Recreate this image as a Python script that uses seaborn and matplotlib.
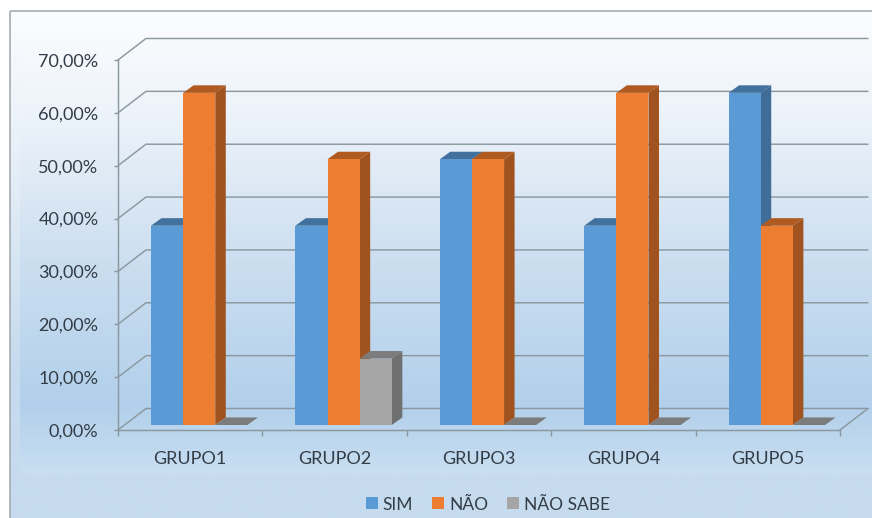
import matplotlib
matplotlib.use("Agg")
import matplotlib.pyplot as plt
import numpy as np
import pandas as pd
import seaborn as sns
from matplotlib.colors import LinearSegmentedColormap
from matplotlib.patches import Polygon, Rectangle

# Survey results per group, in percent
grupos = ["GRUPO1", "GRUPO2", "GRUPO3", "GRUPO4", "GRUPO5"]
sim = [37.5, 37.5, 50.0, 37.5, 62.5]
nao = [62.5, 50.0, 50.0, 62.5, 37.5]
nao_sabe = [0.0, 12.5, 0.0, 0.0, 0.0]
respostas = ["SIM", "NÃO", "NÃO SABE"]
y_ticks = [0, 10, 20, 30, 40, 50, 60, 70]
y_labels = ["0,00%", "10,00%", "20,00%", "30,00%", "40,00%", "50,00%", "60,00%", "70,00%"]

front_colors = ["#5b9bd5", "#ed7d31", "#a5a5a5"]
side_colors = ["#3f6d98", "#a0531e", "#707070"]
top_colors = ["#41719c", "#ae5a21", "#7c7c7c"]
grid_color = "#8b989f"
text_color = "#333d47"

W, H = 872, 518
sns.set_theme(style="white")
plt.rcParams["font.family"] = ["Lato", "DejaVu Sans"]

fig = plt.figure(figsize=(W / 100, H / 100), dpi=100, facecolor="white")


def px_axes(left, top, right, bottom, **kw):
    """Axes placed by pixel edges, measured from the top-left corner."""
    return fig.add_axes([left / W, 1 - bottom / H, (right - left) / W, (bottom - top) / H], **kw)


# Chart area: an outer gradient with a second panel on top that ends above the legend
bg = px_axes(0, 0, W, H, zorder=0)
bg.axis("off")
outer = LinearSegmentedColormap.from_list(
    "outer", [(0.0, "#fbfcfe"), (0.3, "#e6eff8"), (0.7, "#c6dbee"), (1.0, "#c6dbef")]
)
inner = LinearSegmentedColormap.from_list(
    "inner", [(0.0, "#fcfdfe"), (0.22, "#edf3fa"), (0.55, "#cbdef0"), (0.85, "#b2d0eb"), (1.0, "#c9def1")]
)
ramp = np.linspace(0, 1, 256)[:, None]
bg.imshow(ramp, cmap=outer, aspect="auto", extent=(10, W, H, 11), zorder=0)
bg.imshow(ramp, cmap=inner, aspect="auto", extent=(20, W, 475, 11), zorder=1)
bg.set_xlim(0, W)
bg.set_ylim(H, 0)
bg.add_patch(Rectangle((10, 11), W + 5, H, fill=False, ec="#a6acb0", lw=1.2, zorder=2))

# Front plane: holds the value axis, category ticks and the floor edge
ax = px_axes(118, 60, 840, 430, zorder=1)
ax.patch.set_alpha(0)
ax.set_xlim(-0.5, 4.5)
ax.set_ylim(0, 70)
for side in ["top", "right"]:
    ax.spines[side].set_visible(False)
for side in ["left", "bottom"]:
    ax.spines[side].set_color(grid_color)
    ax.spines[side].set_linewidth(1.05)
ax.set_yticks(y_ticks, y_labels)
ax.set_xticks(np.arange(len(grupos)), grupos)
ax.set_xticks(np.arange(len(grupos) + 1) - 0.5, minor=True)
ax.tick_params(axis="x", which="major", length=0, pad=15, labelsize=13, labelcolor=text_color)
ax.tick_params(axis="x", which="minor", length=4, width=1, color=grid_color, bottom=True)
ax.tick_params(axis="y", length=3, width=1, color=grid_color, left=True, pad=11,
               labelsize=13, labelcolor=text_color)

# Back wall gridlines and the receding lines joining them to the value axis
px_x = 5 / 722
px_y = 70 / 370
wall_dx, wall_dy = 28 * px_x, 21.5 * px_y
for v in y_ticks:
    ax.plot([-0.5, -0.5 + wall_dx, 4.5 + wall_dx], [v, v + wall_dy, v + wall_dy],
            color=grid_color, lw=1.05, clip_on=False, solid_joinstyle="miter")
ax.plot([4.5, 4.5 + wall_dx], [0, wall_dy], color=grid_color, lw=1.05, clip_on=False)

# Bars sit a little behind the front plane, on an overlaid transparent axes
bar_ax = px_axes(127, 53, 849, 425, zorder=2)
bar_ax.patch.set_alpha(0)
df = pd.DataFrame({"grupo": grupos, "SIM": sim, "NÃO": nao, "NÃO SABE": nao_sabe}).melt(
    id_vars="grupo", value_vars=respostas, var_name="resposta", value_name="valor"
)
sns.barplot(data=df, x="grupo", y="valor", hue="resposta", hue_order=respostas, order=grupos,
            palette=front_colors, width=0.668, gap=0, saturation=1, linewidth=0, ax=bar_ax)
bar_ax.set_xlim(-0.5, 4.5)
bar_ax.set_ylim(0, 70)

# Side and top faces of each bar, built from the bar geometry
depth_dx, depth_dy = 10.5 * px_x, 7.5 * px_y
for i, container in enumerate(bar_ax.containers):
    for bar in container:
        x0, y1 = bar.get_x(), bar.get_height()
        x1 = x0 + bar.get_width()
        bar.set_zorder(3 + 2 * i + 1)
        bar_ax.add_patch(Polygon(
            [(x1, 0), (x1 + depth_dx, depth_dy), (x1 + depth_dx, y1 + depth_dy), (x1, y1)],
            fc=side_colors[i], ec="none", zorder=3 + 2 * i, clip_on=False))
        bar_ax.add_patch(Polygon(
            [(x0, y1), (x0 + depth_dx, y1 + depth_dy), (x1 + depth_dx, y1 + depth_dy), (x1, y1)],
            fc=top_colors[i], ec="none", zorder=3 + 2 * i, clip_on=False))

handles, labels = bar_ax.get_legend_handles_labels()
bar_ax.get_legend().remove()
bar_ax.axis("off")
fig.legend(handles, labels, ncols=3, loc="center", bbox_to_anchor=(488 / W, 1 - 504.5 / H), frameon=False,
           fontsize=12.5, labelcolor=text_color, handlelength=0.69, handleheight=0.69, handletextpad=0.29,
           columnspacing=1.1, borderpad=0)

fig.savefig("out.png", dpi=100, facecolor="white")
